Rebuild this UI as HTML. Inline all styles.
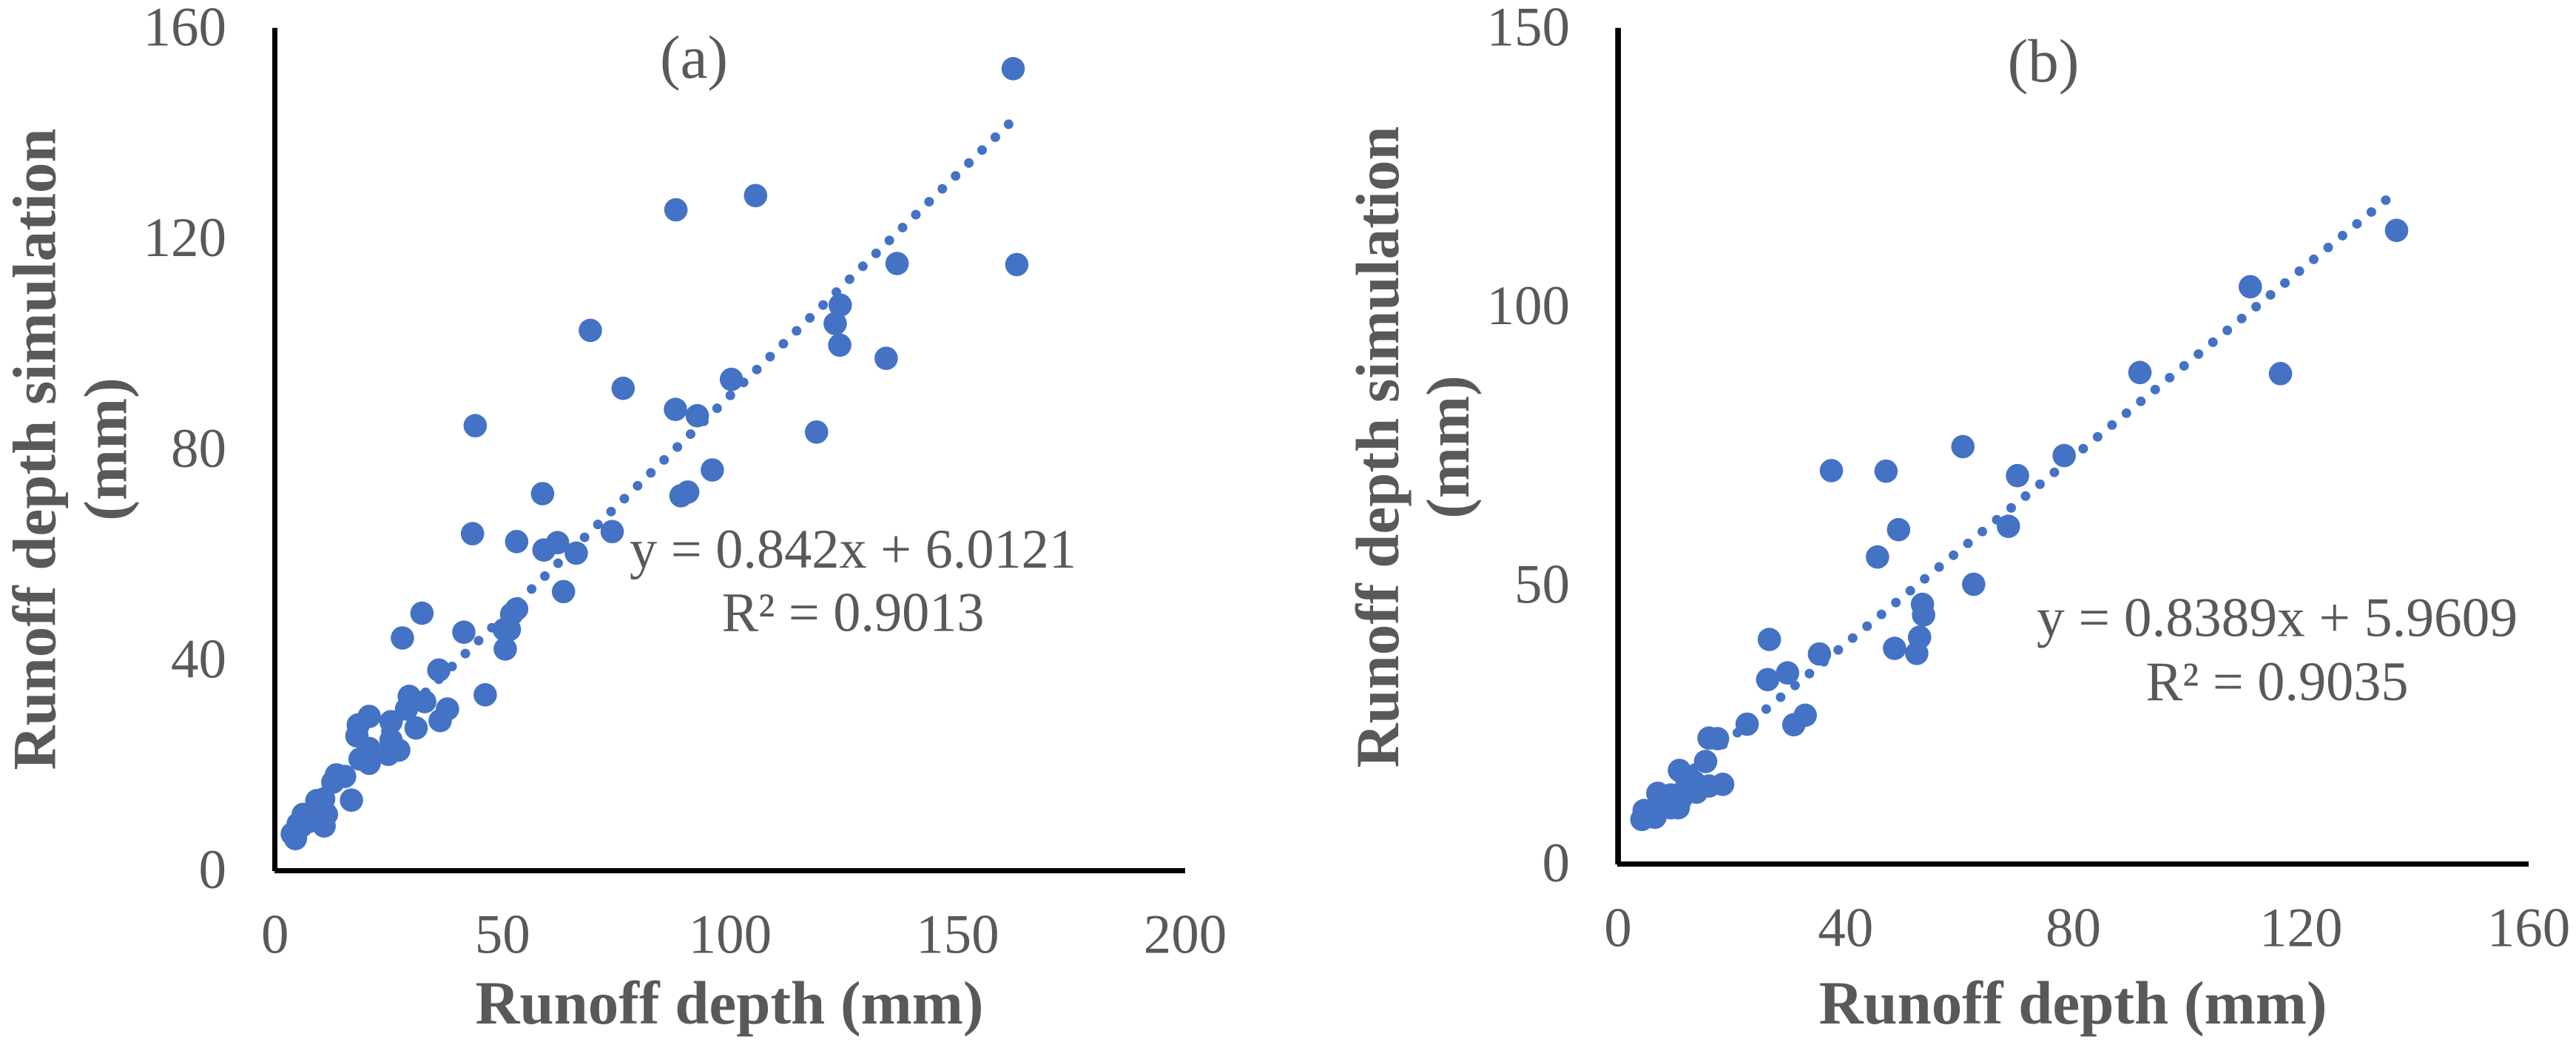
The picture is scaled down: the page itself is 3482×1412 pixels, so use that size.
<!DOCTYPE html>
<html>
<head>
<meta charset="utf-8">
<title>Runoff depth simulation scatter charts</title>
<style>
html,body{margin:0;padding:0;background:#fff;}
svg{display:block;}
text{font-family:"Liberation Serif",serif;fill:#595959;}
.tick{font-size:75px;}
.title{font-size:83px;font-weight:bold;}
.note{font-size:75px;}
.panel{font-size:83px;}
</style>
</head>
<body>
<svg id="chart" xmlns="http://www.w3.org/2000/svg" width="3482" height="1412" viewBox="0 0 3482 1412">
  <rect x="0" y="0" width="3482" height="1412" fill="#ffffff"/>
  <g id="panel-a">
    <g id="marks-a"></g>
    <rect x="368" y="37.7" width="7" height="1139.3" fill="#000"/>
    <rect x="371" y="1173" width="1231" height="7" fill="#000"/>
    <g id="ticks-a"></g>
    <text class="panel" x="938" y="105" text-anchor="middle">(a)</text>
    <text class="title" x="986" y="1383" text-anchor="middle">Runoff depth (mm)</text>
    <text class="title" transform="translate(74.5,607) rotate(-90)" text-anchor="middle">Runoff depth simulation</text>
    <text class="title" transform="translate(170.5,607) rotate(-90)" text-anchor="middle">(mm)</text>
    <text class="note" x="1153" y="767" text-anchor="middle" textLength="604" lengthAdjust="spacingAndGlyphs">y = 0.842x + 6.0121</text>
    <text class="note" x="1153" y="852.5" text-anchor="middle" textLength="355" lengthAdjust="spacingAndGlyphs">R² = 0.9013</text>
  </g>
  <g id="panel-b">
    <g id="marks-b"></g>
    <rect x="2183.3" y="37.7" width="7.7" height="1130.3" fill="#000"/>
    <rect x="2186" y="1164" width="1232" height="7" fill="#000"/>
    <g id="ticks-b"></g>
    <text class="panel" x="2762" y="110" text-anchor="middle">(b)</text>
    <text class="title" x="2802" y="1383" text-anchor="middle">Runoff depth (mm)</text>
    <text class="title" transform="translate(1890,604) rotate(-90)" text-anchor="middle">Runoff depth simulation</text>
    <text class="title" transform="translate(1985,604) rotate(-90)" text-anchor="middle">(mm)</text>
    <text class="note" x="3078" y="859.5" text-anchor="middle" textLength="650" lengthAdjust="spacingAndGlyphs">y = 0.8389x + 5.9609</text>
    <text class="note" x="3078" y="946" text-anchor="middle" textLength="355" lengthAdjust="spacingAndGlyphs">R² = 0.9035</text>
  </g>
</svg>
<script>
// Panel (a) values
const observedA = [162.2,105.6,88.1,136.7,163,124.2,123.1,124.1,134.3,100.3,88,92.8,119,96.1,90.7,89.2,69.3,76.5,44,58.8,43.4,53.1,74.1,62.1,59.1,66.2,63.4,53.1,52,51.5,50.4,50.6,41.5,32.3,28,46.2,36,29.5,32.9,28.9,37.9,36.3,31,20.7,25.5,18.3,18,25.5,27.2,24.9,20.7,18.7,20.7,13.5,15.3,12.7,16.8,10.7,9.2,11.3,10.8,6.2,8.4,5.1,3.8,4.5,7.3,9.2,5.7];
const simulatedA = [152.3,128.2,125.5,115.3,115.1,107.4,103.9,99.8,97.3,93.3,87.6,86.4,83.3,76.1,71.9,71.2,102.6,91.6,84.5,71.6,64,62.5,64.4,62.3,60.9,60.3,53,49.7,48.7,45.8,45.8,42.1,45.3,48.9,44.2,33.4,38.1,33.1,32.1,30.7,30.7,28.5,27.1,29.3,28.3,27.7,25.6,24.8,22.9,22.1,23.2,21.2,20.4,18.2,17.9,16.8,13.4,13.6,13.3,10.7,8.5,10.7,11.2,8.9,7,6.1,9.3,9.8,8.4];
const xTicksA = [0,50,100,150,200];
const yTicksA = [0,40,80,120,160];
const trendRangeA = [161.2,4];
const trendCoefA = [0.842,6.0121];

// Panel (b) values
const observedB = [136.8,111.1,91.7,116.4,78.4,70.2,37.5,47.1,60.6,68.6,49.3,45.6,62.5,53.5,53.7,53,48.6,52.5,26.6,35.4,29.8,26.3,32.9,30.9,22.7,16,17.5,15.4,10.8,18.4,16,13.8,13.4,11.4,7,9.3,10.6,9.3,7.8,4.6,6.5,4.2,5.2,8.8,11];
const simulatedB = [113.7,103.6,88.2,88,73.3,69.7,70.6,70.5,74.9,60.6,60,55.1,50.2,46.6,44.7,40.7,38.7,37.8,40.3,37.7,34.3,33.1,26.7,25,25.1,22.6,22.5,18.4,16.8,14.3,14,12.9,14.7,12.9,12.7,12.4,10.1,10.1,10.7,9.6,8.4,8,8.5,11.2,11.6];
const xTicksB = [0,40,80,120,160];
const yTicksB = [0,50,100,150];
const trendRangeB = [134.9,4];
const trendCoefB = [0.8389,5.9609];

const NS = 'http://www.w3.org/2000/svg';

function linearScale(d0, d1, r0, r1) {
  return function (v) { return r0 + (v - d0) / (d1 - d0) * (r1 - r0); };
}

function drawPanel(cfg) {
  const marks = document.getElementById(cfg.marksId);
  const ticks = document.getElementById(cfg.ticksId);
  const sx = cfg.sx;
  const sy = cfg.sy;

  const trend = document.createElementNS(NS, 'line');
  
  
  trend.setAttribute('x1', sx(cfg.trendRange[0]));
  trend.setAttribute('y1', sy(cfg.coef[0] * cfg.trendRange[0] + cfg.coef[1]));
  trend.setAttribute('x2', sx(cfg.trendRange[1]));
  trend.setAttribute('y2', sy(cfg.coef[0] * cfg.trendRange[1] + cfg.coef[1]));
  trend.setAttribute('stroke', '#4472C4');
  trend.setAttribute('stroke-width', '13');
  trend.setAttribute('stroke-linecap', 'round');
  trend.setAttribute('stroke-dasharray', '0 ' + cfg.dotGap);
  marks.appendChild(trend);

  cfg.xs.forEach(function (x, i) {
    const c = document.createElementNS(NS, 'circle');
    
    
    c.setAttribute('cx', sx(x));
    c.setAttribute('cy', sy(cfg.ys[i]));
    c.setAttribute('r', '15.8');
    c.setAttribute('fill', '#4472C4');
    marks.appendChild(c);
  });

  cfg.xTicks.forEach(function (v) {
    const t = document.createElementNS(NS, 'text');
    
    
    t.setAttribute('class', 'tick');
    t.setAttribute('x', sx(v));
    t.setAttribute('y', cfg.xTickBaseline);
    t.setAttribute('text-anchor', 'middle');
    t.textContent = v;
    ticks.appendChild(t);
  });

  cfg.yTicks.forEach(function (v) {
    const t = document.createElementNS(NS, 'text');
    
    
    t.setAttribute('class', 'tick');
    t.setAttribute('x', cfg.yTickRight);
    t.setAttribute('y', sy(v) + cfg.yTickOffset);
    t.setAttribute('text-anchor', 'end');
    t.textContent = v;
    ticks.appendChild(t);
  });
}

drawPanel({
  marksId: 'marks-a', ticksId: 'ticks-a',
  sx: linearScale(0, 200, 371.7, 1602),
  sy: linearScale(0, 160, 1176.5, 38),
  xs: observedA, ys: simulatedA,
  xTicks: xTicksA, yTicks: yTicksA,
  trendRange: trendRangeA, coef: trendCoefA,
  dotGap: 25,
  xTickBaseline: 1287.5, yTickRight: 306, yTickOffset: 23.5
});

drawPanel({
  marksId: 'marks-b', ticksId: 'ticks-b',
  sx: linearScale(0, 160, 2187, 3418),
  sy: linearScale(0, 150, 1167.5, 38),
  xs: observedB, ys: simulatedB,
  xTicks: xTicksB, yTicks: yTicksB,
  trendRange: trendRangeB, coef: trendCoefB,
  dotGap: 25.2,
  xTickBaseline: 1278.5, yTickRight: 2122, yTickOffset: 23.5
});
</script>
</body>
</html>
